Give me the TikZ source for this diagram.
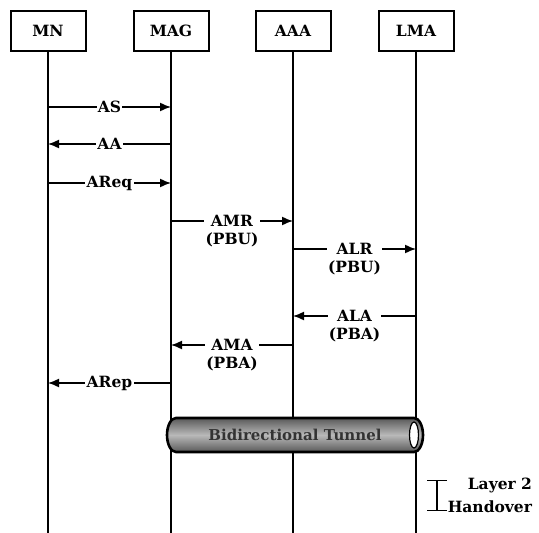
\documentclass[tikz,border=0pt]{standalone}
\usepackage{fontspec}
\setmainfont{DejaVu Serif}
\usetikzlibrary{arrows.meta}

\begin{document}
\begin{tikzpicture}[
  x=1pt, y=-1pt, line width=1.6pt,
  entity/.style={draw,rectangle,line width=2pt,minimum width=75pt,minimum height=40pt,inner sep=0pt,font=\fontsize{15.5}{18}\selectfont\bfseries},
  lifeline/.style={line width=1.8pt},
  msg/.style={-{Latex[length=11pt,width=9pt]},line width=1.5pt},
  lbl/.style={fill=white,inner sep=1.2pt,font=\fontsize{15.5}{18}\selectfont\bfseries},
  lbltwo/.style={lbl,align=center,anchor=north,yshift=7.5pt}
]
  \useasboundingbox (0,0) rectangle (539,533);
  % entities
  \node[entity] (mn)  at (48,31)  {MN};
  \node[entity] (mag) at (171,31) {MAG};
  \node[entity] (aaa) at (293,31) {AAA};
  \node[entity] (lma) at (416,31) {LMA};
  \coordinate (mnEnd)  at (48,533);
  \coordinate (magEnd) at (171,533);
  \coordinate (aaaEnd) at (293,533);
  \coordinate (lmaEnd) at (416,533);
  \draw[lifeline] (mn) -- (mnEnd);
  \draw[lifeline] (mag) -- (magEnd);
  \draw[lifeline] (aaa) -- (aaaEnd);
  \draw[lifeline] (lma) -- (lmaEnd);
  % message points
  \coordinate (mnAS)   at (48,107);  \coordinate (magAS)  at (171,107);
  \coordinate (mnAA)   at (48,144);  \coordinate (magAA)  at (171,144);
  \coordinate (mnAReq) at (48,183);  \coordinate (magAReq) at (171,183);
  \coordinate (magAMR) at (171,221); \coordinate (aaaAMR) at (293,221);
  \coordinate (aaaALR) at (293,249); \coordinate (lmaALR) at (416,249);
  \coordinate (aaaALA) at (293,316); \coordinate (lmaALA) at (416,316);
  \coordinate (magAMA) at (171,345); \coordinate (aaaAMA) at (293,345);
  \coordinate (mnARep) at (48,383);  \coordinate (magARep) at (171,383);
  % messages
  \draw[msg] (mnAS) -- node[lbl] {AS} (magAS);
  \draw[msg] (magAA) -- node[lbl] {AA} (mnAA);
  \draw[msg] (mnAReq) -- node[lbl] {AReq} (magAReq);
  \draw[msg] (magAMR) -- node[lbltwo] {AMR\\(PBU)} (aaaAMR);
  \draw[msg] (aaaALR) -- node[lbltwo] {ALR\\(PBU)} (lmaALR);
  \draw[msg] (lmaALA) -- node[lbltwo] {ALA\\(PBA)} (aaaALA);
  \draw[msg] (aaaAMA) -- node[lbltwo] {AMA\\(PBA)} (magAMA);
  \draw[msg] (magARep) -- node[lbl] {ARep} (mnARep);
  % tunnel
  \path[draw=black,line width=2.6pt,top color=gray!70!black,bottom color=gray!70!black,middle color=gray!55]
    (176,418) -- (414,418) arc[start angle=-90,end angle=90,x radius=9,y radius=17]
    -- (176,452) arc[start angle=90,end angle=270,x radius=9,y radius=17] -- cycle;
  \draw[fill=white,line width=1.2pt] (414,435) ellipse[x radius=4.5,y radius=13];
  \node[font=\fontsize{15}{18}\selectfont\bfseries,text=black!80] (tunnel) at (295,435) {Bidirectional Tunnel};
  % layer 2 handover
  \coordinate (hoTop) at (437,480);
  \coordinate (hoBot) at (437,511);
  \draw[{Bar[width=20pt,line width=1.4pt]}-{Bar[width=20pt,line width=1.4pt]},line width=1.4pt] (hoTop) -- (hoBot);
  \node[anchor=west,align=right,inner sep=1pt,font=\fontsize{15.5}{23}\selectfont\bfseries] (ho) at (446,495) {Layer 2\\Handover};
\end{tikzpicture}
\end{document}
